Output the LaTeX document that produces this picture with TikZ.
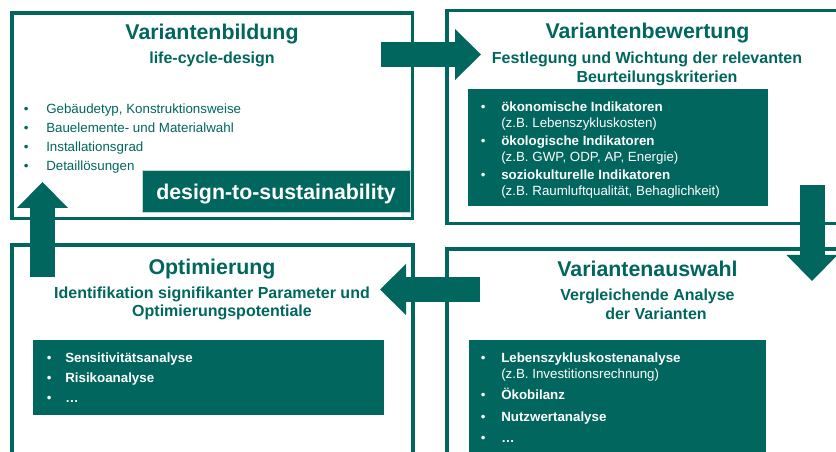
\documentclass[tikz,border=0pt]{standalone}
\usepackage{fontspec}
\setmainfont{Liberation Sans}
\usetikzlibrary{arrows.meta}
\definecolor{petrol}{RGB}{0,102,94}
\newlength\px
\setlength\px{0.75pt}
\newcommand\itm[1][11.75pt]{\makebox[0pt][r]{\textbullet\hspace{#1}}}

\begin{document}
\begin{tikzpicture}[x=1\px,y=-1\px,
  frame/.style={draw=petrol,line width=3.5\px,inner sep=0pt,outer sep=0pt,anchor=north west},
  panel/.style={fill=petrol,inner sep=0pt,outer sep=0pt,anchor=north west},
  title/.style={text=petrol,font=\bfseries\fontsize{16}{19}\selectfont,anchor=base,inner sep=0pt},
  subtitle/.style={text=petrol,font=\bfseries\fontsize{12}{14}\selectfont,align=center,inner sep=0pt},
  plainlist/.style={text=petrol,font=\fontsize{10}{14.25}\selectfont,align=left,anchor=north west,inner sep=0pt},
  panellist/.style={text=white,font=\fontsize{10}{12}\selectfont,align=left,anchor=north west,inner sep=0pt},
  flow/.style={petrol,line width=18.75pt,-{Triangle[length=19.5pt,width=38.25pt,line width=0pt]}}]
\useasboundingbox (0,0) rectangle (836,452);
\fill[white] (0,0) rectangle (836,452);
\clip (0,0) rectangle (836,452);

\node[frame,minimum width=400.5\px,minimum height=205.5\px] (bild) at (12,13) {};
\node[frame,minimum width=420\px,minimum height=213\px] (bew) at (447,10.5) {};
\node[frame,minimum width=401\px,minimum height=240\px] (opt) at (12,245) {};
\node[frame,minimum width=420\px,minimum height=240\px] (aus) at (447,249) {};

\node[panel,draw=petrol!25,line width=1\px,minimum width=268\px,minimum height=42\px] (dts) at (142,171) {};
\node[panel,minimum width=300\px,minimum height=117\px] (bewP) at (468,89) {};
\node[panel,minimum width=351\px,minimum height=75\px] (optP) at (33,340) {};
\node[panel,minimum width=297\px,minimum height=140\px] (ausP) at (469,340) {};

\node[title] (bildT) at (212,40) {Variantenbildung};
\node[subtitle,anchor=base] (bildS) at (212,63.5) {life-cycle-design};
\node[plainlist] (bildL) at (46,103.3) {\itm[13.25pt]Gebäudetyp, Konstruktionsweise\\
\itm[13.25pt]Bauelemente- und Materialwahl\\
\itm[13.25pt]Installationsgrad\\
\itm[13.25pt]Detaillösungen};
\node[text=white,font=\bfseries\fontsize{16}{19}\selectfont,anchor=base,inner sep=0pt] (dtsT) at (276,200) {design-to-sustainability};

\node[title] (bewT) at (647.5,39) {Variantenbewertung};
\node[subtitle,anchor=north] (bewS) at (647,51.5) {Festlegung und Wichtung der relevanten\\
\hspace*{20\px}Beurteilungskriterien};
\node[panellist] (bewL) at (501,101.7) {\itm\textbf{ökonomische Indikatoren}\\
(z.B. Lebenszykluskosten)\\[1.5pt]
\itm\textbf{ökologische Indikatoren}\\
(z.B. GWP, ODP, AP, Energie)\\[1.5pt]
\itm\textbf{soziokulturelle Indikatoren}\\
(z.B. Raumluftqualität, Behaglichkeit)};

\node[title] (optT) at (212,274.5) {Optimierung};
\node[subtitle,anchor=north] (optS) at (212,286.3) {Identifikation signifikanter Parameter und\\
\hspace*{20\px}Optimierungspotentiale};
\node[panellist,font=\fontsize{10}{15}\selectfont] (optL) at (65,352.5) {\itm[10.25pt]\textbf{Sensitivitätsanalyse}\\
\itm[10.25pt]\textbf{Risikoanalyse}\\
\itm[10.25pt]\textbf{…}};

\node[title] (ausT) at (647.5,277) {Variantenauswahl};
\node[subtitle,anchor=north] (ausS) at (647.5,288.8) {Vergleichende Analyse\\
\hspace*{17\px}der Varianten};
\node[panellist] (ausL) at (501,352.5) {\itm\textbf{Lebenszykluskostenanalyse}\\
(z.B. Investitionsrechnung)\\[4pt]
\itm\textbf{Ökobilanz}\\[4pt]
\itm\textbf{Nutzwertanalyse}\\[4pt]
\itm\textbf{…}};

\coordinate (bildOut) at (381,54.5);
\coordinate (bewIn) at (481,54.5);
\coordinate (bewOut) at (812,185);
\coordinate (ausIn) at (812,281);
\coordinate (ausOut) at (480,289.5);
\coordinate (optIn) at (380,289.5);
\coordinate (optOut) at (42.5,277);
\coordinate (bildIn) at (42.5,182);
\draw[flow] (bildOut) -- (bewIn);
\draw[flow] (bewOut) -- (ausIn);
\draw[flow] (ausOut) -- (optIn);
\draw[flow] (optOut) -- (bildIn);
\end{tikzpicture}
\end{document}
